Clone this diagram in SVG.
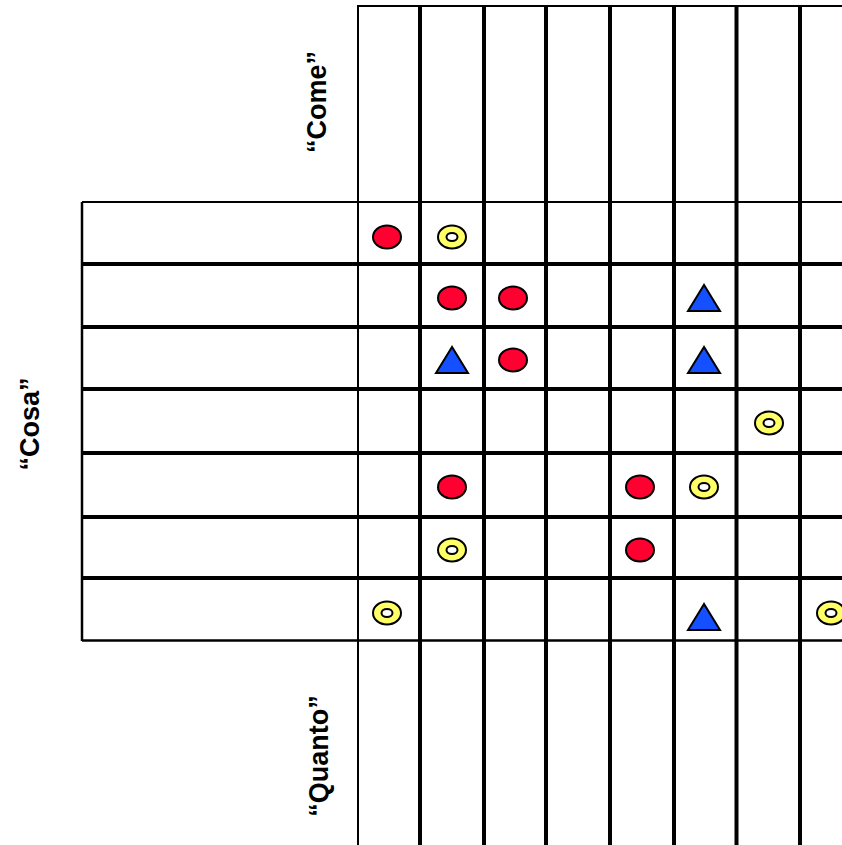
<svg xmlns="http://www.w3.org/2000/svg" width="842" height="845" viewBox="0 0 842 845">
<defs>
<style>
.thin{stroke:#000;stroke-width:2;fill:none}
.thick{stroke:#000;stroke-width:4;fill:none}
.red{fill:#ff0030;stroke:#000;stroke-width:2}
.yel{fill:#ffff66;stroke:#000;stroke-width:2}
.hole{fill:#fff;stroke:#000;stroke-width:2}
.tri{fill:#1450ff;stroke:#000;stroke-width:2;stroke-linejoin:miter}
.lbl{font-family:"Liberation Sans",Arial,sans-serif;font-weight:bold;font-size:27px;fill:#000}
</style>
<g id="dot"><ellipse cx="0" cy="0" rx="14" ry="11.5" class="red"/></g>
<g id="ring"><ellipse cx="0" cy="0" rx="14" ry="11.5" class="yel"/><ellipse cx="0" cy="0" rx="5.5" ry="4" class="hole"/></g>
<g id="tri"><polygon points="0,-13 -16,13 16,13" class="tri"/></g>
</defs>
<rect width="842" height="845" fill="#fff"/>
<g id="grid">
<line x1="357" y1="6" x2="842" y2="6" class="thin"/>
<line x1="358" y1="5" x2="358" y2="845" class="thin"/>
<line x1="420" y1="5" x2="420" y2="845" class="thick"/>
<line x1="484" y1="5" x2="484" y2="845" class="thick"/>
<line x1="546" y1="5" x2="546" y2="845" class="thick"/>
<line x1="610" y1="5" x2="610" y2="845" class="thick"/>
<line x1="674" y1="5" x2="674" y2="845" class="thick"/>
<line x1="736.5" y1="5" x2="736.5" y2="845" class="thick"/>
<line x1="800" y1="5" x2="800" y2="845" class="thick"/>
<line x1="82" y1="202" x2="82" y2="641" class="thin" style="stroke-width:2.5"/>
<line x1="82" y1="202" x2="842" y2="202" class="thin"/>
<line x1="82" y1="264" x2="842" y2="264" class="thick"/>
<line x1="82" y1="327" x2="842" y2="327" class="thick"/>
<line x1="82" y1="389" x2="842" y2="389" class="thick"/>
<line x1="82" y1="453" x2="842" y2="453" class="thick"/>
<line x1="82" y1="517" x2="842" y2="517" class="thick"/>
<line x1="82" y1="578" x2="842" y2="578" class="thick"/>
<line x1="82" y1="640.5" x2="842" y2="640.5" class="thin" style="stroke-width:2.5"/>
</g>
<g id="labels">
<text class="lbl" text-anchor="middle" transform="translate(326,102) rotate(-90)">“Come”</text>
<text class="lbl" text-anchor="middle" transform="translate(39,424) rotate(-90)">“Cosa”</text>
<text class="lbl" text-anchor="middle" transform="translate(328,756) rotate(-90)">“Quanto”</text>
</g>
<g id="symbols">
<use href="#dot" x="387" y="237"/>
<use href="#ring" x="452" y="237"/>
<use href="#dot" x="452" y="298"/>
<use href="#dot" x="513" y="298"/>
<use href="#tri" x="704" y="298"/>
<use href="#tri" x="452" y="360"/>
<use href="#dot" x="513" y="360"/>
<use href="#tri" x="704" y="360"/>
<use href="#ring" x="769" y="423"/>
<use href="#dot" x="452" y="487"/>
<use href="#dot" x="640" y="487"/>
<use href="#ring" x="704" y="487"/>
<use href="#ring" x="452" y="550"/>
<use href="#dot" x="640" y="550"/>
<use href="#ring" x="387" y="613"/>
<use href="#tri" x="704" y="617"/>
<use href="#ring" x="831" y="613"/>
</g>
</svg>
